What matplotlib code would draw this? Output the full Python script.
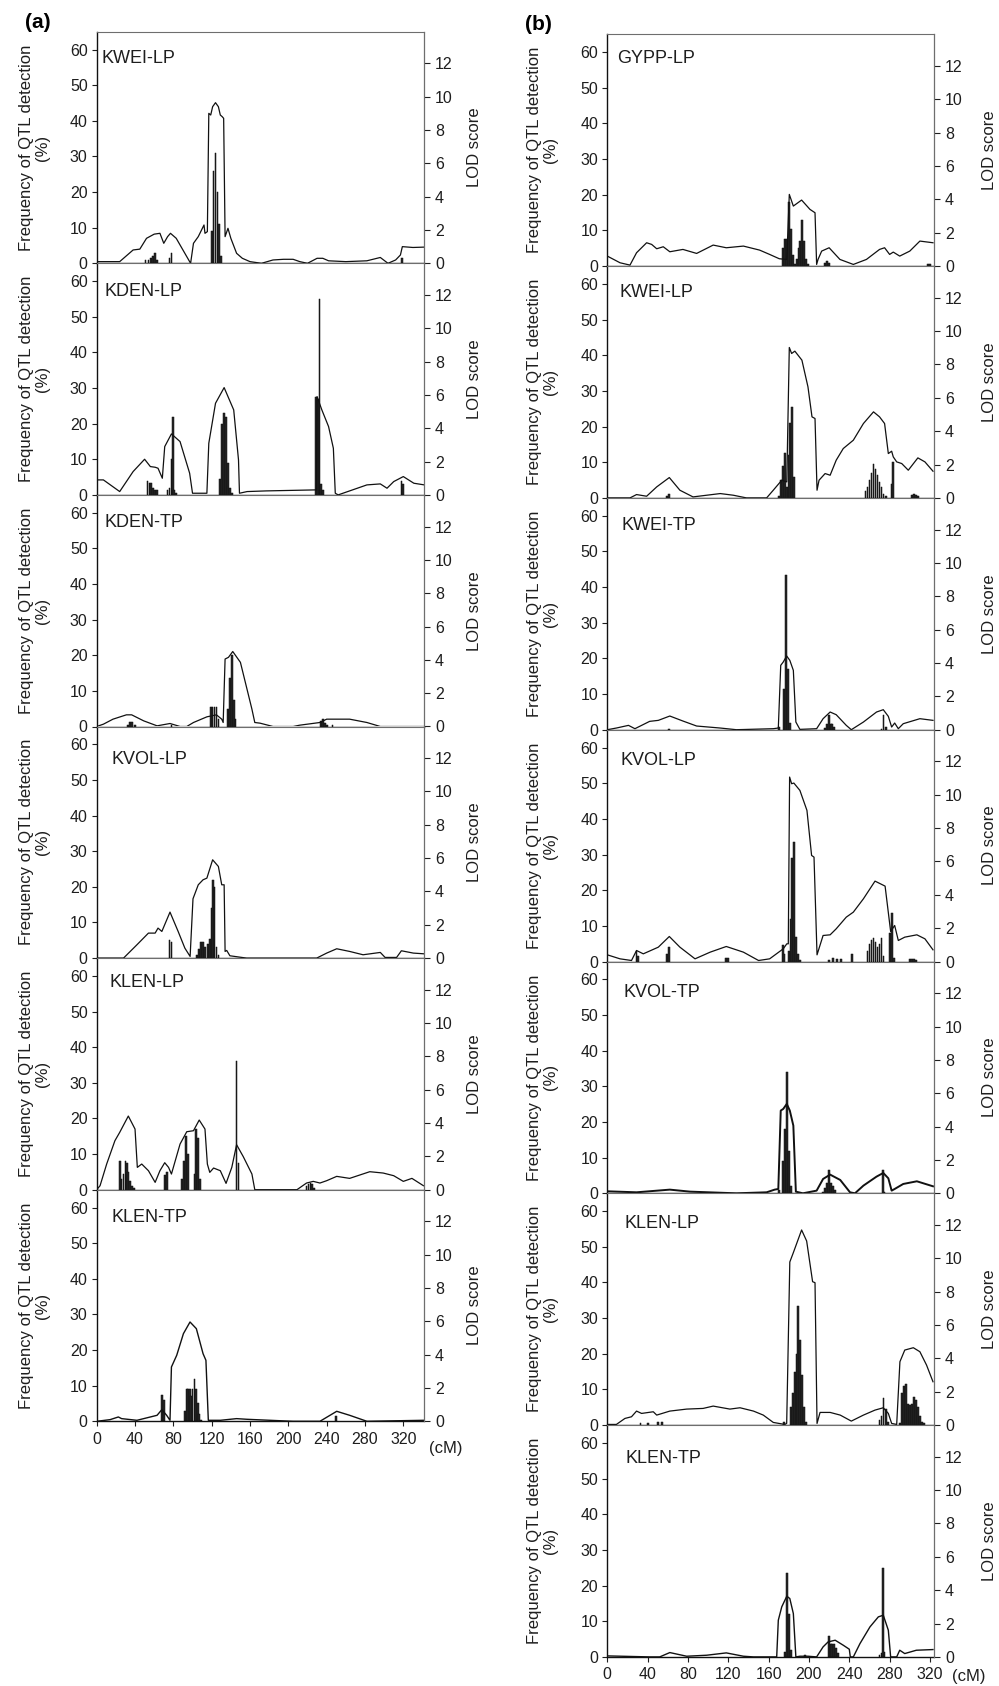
import matplotlib
matplotlib.use("Agg")
import matplotlib.pyplot as plt

plt.rcParams['font.family'] = ['Liberation Sans', 'DejaVu Sans']

# ---------------- DATA ----------------
# Column (a)
a1_name = "KWEI-LP"
a1_lod_x = [0, 24, 32, 38, 45, 52, 60, 66, 70, 74, 77, 83, 90, 98, 101, 106, 112, 113, 115.5, 117, 119, 121, 124, 127, 129, 131, 132.5, 134, 137, 140, 146, 152, 160, 172, 184, 195, 205, 212, 220, 230, 236, 242, 260, 282, 296, 304, 312, 317, 319, 330, 341]
a1_lod_y = [0.1, 0.1, 0.5, 0.8, 0.85, 1.5, 1.75, 1.8, 1.2, 1.6, 1.8, 1.5, 0.8, 0.0, 1.2, 1.6, 2.3, 1.8, 1.9, 9.0, 8.9, 9.4, 9.64, 9.4, 8.9, 8.8, 8.7, 1.6, 2.1, 1.5, 0.6, 0.3, 0.1, 0.0, 0.2, 0.24, 0.24, 0.1, 0.0, 0.3, 0.3, 0.15, 0.1, 0.15, 0.35, 0.0, 0.2, 0.5, 1.0, 0.95, 0.97]
a1_bar_x = [51, 54, 57, 59, 61, 63, 76, 78, 120, 122, 124, 126, 128, 130, 319]
a1_bar_h = [1, 1, 1.5, 2, 2.8, 1, 1.5, 3, 9, 26, 31, 20, 11, 2, 1.5]

a2_name = "KDEN-LP"
a2_lod_x = [0, 7, 24, 38, 50, 56, 61, 64, 68.5, 71, 78, 87, 97, 100, 115, 117, 124, 133, 143, 148, 149, 157, 177, 228, 229.5, 230, 235, 242, 247, 249, 252, 282, 296, 303, 310, 320, 331, 342]
a2_lod_y = [0.9, 0.9, 0.2, 1.4, 2.14, 1.7, 1.66, 1.6, 1.0, 2.9, 3.66, 3.2, 1.3, 0.1, 0.1, 3.1, 5.5, 6.44, 5.1, 2.1, 0.1, 0.2, 0.24, 0.3, 0.3, 5.9, 5.1, 4.1, 2.8, 0.1, 0.0, 0.6, 0.66, 0.4, 0.8, 1.1, 0.7, 0.6]
a2_bar_x = [53, 55, 57, 59, 61, 63, 74, 76, 78, 79.5, 81, 83, 129, 131, 133, 135, 137, 139, 141, 229, 231, 232.5, 234, 236, 318, 320]
a2_bar_h = [4, 3.3, 3.3, 2, 1.5, 1.3, 1.5, 2, 10, 22, 1.5, 0.5, 4.5, 20, 23, 22, 9, 2, 0.5, 27.5, 27, 55, 3, 1.5, 4, 3]

a3_name = "KDEN-TP"
a3_lod_x = [0, 7, 17, 31, 36.5, 49, 63, 76.5, 87, 94, 101, 115, 125, 130.5, 132, 134, 137.5, 142, 150, 162, 165, 170.5, 184, 205, 212, 233, 240, 264, 282, 296, 341]
a3_lod_y = [0, 0.14, 0.44, 0.7, 0.7, 0.34, 0.04, 0.18, 0, 0, 0.24, 0.58, 0.7, 0.44, 0.24, 4.05, 4.15, 4.5, 3.85, 1.04, 0.24, 0.2, 0, 0, 0.08, 0.24, 0.44, 0.44, 0.24, 0, 0]
a3_bar_x = [33, 35, 37, 40, 78, 119, 121, 123, 125, 127, 137, 139, 141, 143, 145, 234, 236, 238, 240, 246]
a3_bar_h = [0.5, 1.3, 1.3, 0.5, 0.5, 5.5, 5.5, 5.5, 5.5, 2, 5, 13.5, 20, 7.5, 2, 1.5, 2, 1, 0.5, 0.3]

a4_name = "KVOL-LP"
a4_lod_x = [0, 28, 42, 54, 61, 64, 68, 76.5, 85, 92, 97.5, 100.5, 106, 111, 115, 121, 127, 130.5, 133, 134, 135.7, 139, 156.5, 229.6, 240, 250.5, 264, 278, 296, 301, 313, 318, 330.5, 341]
a4_lod_y = [0, 0, 0.8, 1.5, 1.5, 1.8, 1.6, 2.76, 1.6, 0.6, 0.1, 3.56, 4.4, 4.7, 4.8, 5.9, 5.5, 4.4, 4.4, 0.4, 0.46, 0.14, 0, 0, 0.3, 0.56, 0.4, 0.2, 0.34, 0.04, 0.04, 0.44, 0.3, 0.26]
a4_bar_x = [76, 78, 105, 107, 109, 111, 113, 116.5, 118, 120, 121.5, 123, 125, 127]
a4_bar_h = [5, 4.5, 1, 2.5, 4.5, 4.5, 3, 4, 5.5, 14, 22, 20, 3, 1]

a5_name = "KLEN-LP"
a5_lod_x = [0, 3.5, 10.4, 19, 24, 33, 40, 42.4, 47, 54, 61, 66, 71, 75, 78, 87, 94, 101, 107, 113, 115.5, 118, 122, 129, 135, 141, 146, 153, 162, 165, 177, 209, 219, 226, 233, 240, 250.5, 264, 285, 299, 310, 320, 329, 341]
a5_lod_y = [0, 0.24, 1.54, 2.94, 3.44, 4.42, 3.64, 1.34, 1.54, 1.14, 0.44, 1.14, 1.62, 1.34, 0.94, 2.74, 3.48, 3.54, 4.18, 3.64, 1.54, 1.04, 1.3, 1.14, 0.38, 1.34, 2.7, 1.98, 0.94, 0, 0, 0, 0.4, 0.5, 0.4, 0.54, 0.8, 0.68, 1.08, 1.0, 0.84, 0.5, 0.68, 0.24]
a5_bar_x = [24, 26, 28, 30, 31.5, 33, 35, 37, 39, 71, 73, 89, 91, 93, 95, 102.5, 104, 106, 108, 146, 148, 219, 221, 223, 225, 227]
a5_bar_h = [8, 3, 4.5, 8, 7.5, 5, 2.5, 1, 0.5, 4, 5, 3, 8, 15, 10, 4.5, 17, 14.5, 3, 36, 7.5, 1, 1.5, 2, 1.5, 0.5]

a6_name = "KLEN-TP"
a6_lod_x = [0, 14, 22.6, 26, 42, 56, 63, 68, 73, 76.5, 78, 83.5, 90.5, 97.4, 104, 111, 114, 116.5, 129, 146, 157, 205, 233, 250.5, 264, 282, 341]
a6_lod_y = [0, 0.1, 0.26, 0.16, 0.06, 0.26, 0.36, 0.7, 0.36, 0.06, 3.26, 3.96, 5.26, 5.96, 5.56, 4.06, 3.66, 0.06, 0.06, 0.16, 0.12, 0, 0, 0.6, 0.36, 0, 0.06]
a6_bar_x = [68, 70, 92, 94, 95.5, 97, 98.5, 100, 102, 104, 105.5, 107, 109, 250]
a6_bar_h = [7.5, 6, 3, 9, 9, 9, 7, 9, 12, 9, 5, 2, 0.5, 1.5]

# Column (b)
b1_name = "GYPP-LP"
b1_lod_x = [0, 12.6, 22.5, 29, 39, 44, 49, 55.5, 62, 75, 88.6, 105, 118, 135, 151, 161, 170.6, 178, 180.5, 184.5, 192.7, 201, 206, 207.6, 209, 212.6, 220, 230.7, 244, 257, 270, 275, 280, 283.6, 290, 300, 310, 323]
b1_lod_y = [0.6, 0.2, 0.06, 0.8, 1.4, 1.3, 1.04, 1.16, 0.86, 1.0, 0.76, 1.26, 1.1, 1.2, 0.96, 0.7, 0.44, 0.4, 4.3, 3.6, 3.96, 3.4, 3.2, 0.1, 0.4, 0.9, 1.1, 0.4, 0.1, 0.4, 1.0, 1.1, 0.7, 0.84, 0.6, 0.9, 1.5, 1.4]
b1_bar_x = [174, 176, 178, 180, 182, 184, 186, 188.5, 190, 191.5, 193, 195, 197, 199, 216, 218, 220, 318, 320]
b1_bar_h = [5, 7.5, 7.5, 18, 10.5, 3, 0.5, 2, 5, 7, 13, 7, 2, 0.5, 1, 1.5, 1, 0.5, 0.5]

b2_name = "KWEI-LP"
b2_lod_x = [0, 22.5, 29, 39, 49, 61.5, 72, 85, 112, 125, 138, 158, 164.6, 173, 178, 180.5, 182.8, 186, 193, 199, 203, 206, 208, 210, 216, 221, 227, 234, 244, 254, 264, 270, 275, 278.7, 282, 283.6, 287, 292, 298.5, 308, 315, 323]
b2_lod_y = [0, 0, 0.2, 0.1, 0.66, 1.22, 0.46, 0.06, 0.26, 0.16, 0, 0, 0.46, 1.06, 0.96, 9.02, 8.66, 8.8, 8.26, 6.66, 4.86, 4.76, 0.46, 1.06, 1.46, 1.36, 2.26, 2.96, 3.46, 4.46, 5.16, 4.86, 4.46, 2.66, 2.8, 2.46, 2.16, 2.06, 1.66, 2.4, 2.16, 1.6]
b2_bar_x = [59, 61, 170, 172.5, 174, 176, 178, 180, 181.5, 183.5, 185, 256, 258, 260, 262, 264, 266, 268, 270, 272, 274, 276, 282, 283.5, 302, 304, 306, 308]
b2_bar_h = [0.5, 1, 0.5, 5, 9, 12.5, 3, 12, 21, 25.5, 6, 2, 3, 5, 7, 9.5, 8, 6.5, 4.5, 3, 1, 0.5, 4, 10, 0.8, 1, 0.8, 0.6]

b3_name = "KWEI-TP"
b3_lod_x = [0, 9, 21, 27.4, 42, 50.6, 62, 75, 88.6, 112, 128, 164.6, 169.6, 172, 174.5, 177.9, 181, 184.5, 187, 191, 207.6, 214, 221, 227, 237, 242, 254, 267, 273.7, 278.7, 282, 285, 288.6, 293.5, 310, 323]
b3_lod_y = [0, 0.1, 0.26, 0.06, 0.5, 0.56, 0.82, 0.52, 0.22, 0.1, 0, 0.06, 0.1, 3.86, 4.06, 4.42, 4.16, 3.56, 0.46, 0.02, 0.06, 0.66, 1.06, 0.9, 0.26, 0, 0.46, 1.06, 1.2, 0.8, 0.16, 0.4, 0.06, 0.36, 0.66, 0.56]
b3_bar_x = [61, 170.5, 175, 177, 179, 181, 216, 218, 220, 221.5, 223, 225, 272, 274, 276]
b3_bar_h = [0.3, 0.8, 11.5, 43.5, 17, 2, 0.5, 1.5, 4, 1.5, 1.5, 0.7, 0.3, 4, 0.7]

b4_name = "KVOL-LP"
b4_lod_x = [0, 12.6, 24, 29, 35.7, 50.6, 61.5, 72, 87, 102, 118, 135, 150, 161, 174.5, 178, 179.5, 180.8, 182.8, 185, 191, 198, 202.6, 205, 208, 214, 221, 227, 237, 244, 254, 265.5, 275.5, 281, 285, 288.6, 295, 307, 315, 323]
b4_lod_y = [0.4, 0.16, 0.06, 0.66, 0.46, 0.86, 1.5, 0.86, 0.16, 0.56, 0.9, 0.56, 0.06, 0.16, 0.76, 1.06, 1.06, 11.06, 10.66, 10.7, 10.26, 9.06, 6.36, 6.26, 0.4, 1.56, 1.6, 1.96, 2.66, 2.96, 3.76, 4.82, 4.52, 1.8, 2.16, 1.26, 1.46, 1.6, 1.36, 0.7]
b4_bar_x = [29, 30.5, 59, 61, 118, 120, 174, 175.5, 180, 182, 183.5, 185.5, 187.5, 189, 191, 220, 224, 228, 232, 243, 258, 260, 262, 264, 266, 268, 270, 272, 274, 280, 282, 284, 300, 302, 304, 306]
b4_bar_h = [3, 1.5, 2, 4, 1, 1, 4.5, 2, 3, 12, 29, 33.5, 7, 2, 0.5, 0.5, 1, 0.8, 0.6, 2, 3, 5, 6, 6.5, 5.5, 4, 5, 6.5, 1.5, 8, 13.5, 1, 0.8, 0.8, 0.6, 0.5]

b5_name = "KVOL-TP"
b5_lod_x = [0, 29, 62, 82, 128, 158, 166, 169.6, 172, 174.5, 178, 181, 184.5, 187, 194, 207.6, 214, 221, 231, 240.7, 245.6, 254, 267, 273.7, 278.7, 282, 285, 293.5, 307, 323]
b5_lod_y = [0.12, 0.06, 0.22, 0.1, 0, 0.06, 0.22, 0.26, 4.96, 5.06, 5.36, 4.96, 4.06, 0.1, 0, 0.16, 0.86, 1.12, 0.8, 0.06, 0, 0.46, 1.0, 1.22, 0.9, 0.16, 0.26, 0.56, 0.72, 0.42]
b5_bar_x = [170, 174.5, 176.5, 178, 180, 182, 214, 216, 218, 220, 222, 224, 226, 273.5, 275]
b5_bar_h = [1, 9, 18, 34, 12, 2, 0.5, 1.5, 3, 6.5, 3, 2, 1, 6.5, 0.5]

b6_name = "KLEN-LP"
b6_lod_x = [0, 9, 17.5, 24, 29, 34, 45.6, 49, 62, 78.7, 95, 105, 121.6, 131.6, 145, 154.7, 164.6, 176, 177.9, 181, 184.5, 192.7, 197.7, 203.6, 206, 208, 211, 221, 231, 242, 254, 265.5, 273.7, 278.7, 282, 287, 290.2, 295, 303.5, 310, 316.6, 323]
b6_lod_y = [0.04, 0.04, 0.4, 0.5, 0.84, 0.7, 0.8, 0.6, 0.84, 0.96, 1.0, 1.14, 0.96, 1.04, 0.84, 0.6, 0.16, 0.04, 0.1, 9.78, 10.34, 11.7, 11.04, 8.6, 8.54, 0.1, 0.76, 0.76, 0.6, 0.24, 0.6, 0.9, 1.04, 0.7, 0.1, 0.04, 3.8, 4.5, 4.64, 4.4, 3.6, 2.6]
b6_bar_x = [33, 40, 50, 54, 175, 182, 184, 186, 188, 189.5, 191, 193, 195, 197, 270, 272, 274, 276, 278, 290, 292, 294, 296, 298, 300, 302, 304, 306, 308, 310, 312, 314]
b6_bar_h = [0.7, 0.5, 0.8, 1, 1, 5, 9, 15, 20, 33.5, 24, 14, 5, 1, 1.5, 2.5, 7.5, 4.5, 1, 0.5, 9, 11, 11.5, 6, 5.5, 6, 8, 7, 5, 2.5, 1, 0.5]

b7_name = "KLEN-TP"
b7_lod_x = [0, 42, 52, 62, 78.7, 98.5, 118, 135, 145, 168, 169.6, 173, 178, 181, 184.5, 187, 191, 199, 207.6, 214, 219, 226, 234, 240, 241, 244, 250.6, 260.5, 268.8, 273.7, 278.7, 281, 287, 290, 295, 306.5, 323]
b7_lod_y = [0.06, 0, 0, 0.26, 0.04, 0.1, 0.24, 0.04, 0, 0, 2.2, 3.0, 3.64, 3.5, 2.6, 0, 0.04, 0.04, 0, 0.6, 0.9, 1.0, 0.7, 0.46, 0, 0, 0.8, 1.8, 2.4, 2.5, 1.6, 0, 0, 0.4, 0.2, 0.4, 0.44]
b7_bar_x = [176.5, 178, 180, 182, 196, 220, 221.5, 223, 225, 227, 229, 270, 272, 273.5, 275]
b7_bar_h = [1.5, 23.5, 12, 2, 0.5, 6, 3.5, 3.5, 3.5, 2.5, 1, 0.5, 1, 25, 1.5]

x_ticks = [0, 40, 80, 120, 160, 200, 240, 280, 320]
freq_ticks = [0, 10, 20, 30, 40, 50, 60]
lod_ticks = [0, 2, 4, 6, 8, 10, 12]

col_a = [(a1_name, a1_lod_x, a1_lod_y, a1_bar_x, a1_bar_h),
         (a2_name, a2_lod_x, a2_lod_y, a2_bar_x, a2_bar_h),
         (a3_name, a3_lod_x, a3_lod_y, a3_bar_x, a3_bar_h),
         (a4_name, a4_lod_x, a4_lod_y, a4_bar_x, a4_bar_h),
         (a5_name, a5_lod_x, a5_lod_y, a5_bar_x, a5_bar_h),
         (a6_name, a6_lod_x, a6_lod_y, a6_bar_x, a6_bar_h)]
col_b = [(b1_name, b1_lod_x, b1_lod_y, b1_bar_x, b1_bar_h),
         (b2_name, b2_lod_x, b2_lod_y, b2_bar_x, b2_bar_h),
         (b3_name, b3_lod_x, b3_lod_y, b3_bar_x, b3_bar_h),
         (b4_name, b4_lod_x, b4_lod_y, b4_bar_x, b4_bar_h),
         (b5_name, b5_lod_x, b5_lod_y, b5_bar_x, b5_bar_h),
         (b6_name, b6_lod_x, b6_lod_y, b6_bar_x, b6_bar_h),
         (b7_name, b7_lod_x, b7_lod_y, b7_bar_x, b7_bar_h)]

# ---------------- LAYOUT ----------------
W, H = 999, 1686
fig = plt.figure(figsize=(W / 100, H / 100), dpi=100)

# label offsets (px from axes left, px from axes top)
lab_a = [(5, 27), (8, 28), (8, 28), (15, 33), (13, 24), (15, 28)]
lab_b = [(10, 24), (12, 26), (14, 28), (13, 31), (16, 31), (17, 30), (18, 33)]
lw_a = [0.9, 0.9, 0.9, 0.9, 0.9, 1.0]
lw_b = [0.9, 0.9, 0.9, 0.9, 1.4, 0.9, 1.0]

cols = [
    dict(panels=col_a, left=96.7, width=327.3, top=31.7, ph=231.6, xmax=341.6,
         ylab_x=-0.143, lod_x=1.130, labs=lab_a, lws=lw_a, cm=(446, 1448)),
    dict(panels=col_b, left=607.3, width=326.7, top=34.3, ph=231.8, xmax=324.0,
         ylab_x=-0.151, lod_x=1.146, labs=lab_b, lws=lw_b, cm=(969, 1677)),
]

TICK_FS = 11.5
LAB_FS = 12
spine_gray = '#6e6e6e'
txt = '#1e1e1e'
for col in cols:
    n = len(col['panels'])
    for i, (name, lx, ly, bx, bh) in enumerate(col['panels']):
        top = col['top'] + i * col['ph']
        bottom = top + col['ph']
        ax = fig.add_axes([col['left'] / W, 1 - bottom / H, col['width'] / W, col['ph'] / H])
        ax.bar(bx, bh, width=1.8, color='#262626', edgecolor='#0a0a0a', linewidth=0.35)
        ax.set_xlim(0, col['xmax'])
        ax.set_ylim(0, 65)
        ax.set_yticks(freq_ticks)
        ax.tick_params(axis='y', direction='out', length=3.5, width=0.8, labelsize=TICK_FS, pad=3,
                       colors=txt)
        ax.set_ylabel("Frequency of QTL detection\n(%)", fontsize=LAB_FS, color=txt,
                      linespacing=1.1)
        ax.yaxis.set_label_coords(col['ylab_x'], 0.5)
        for s in ['left', 'bottom']:
            ax.spines[s].set_color('#111111')
            ax.spines[s].set_linewidth(1.0)
        ax.spines['top'].set_color(spine_gray)
        ax.spines['top'].set_linewidth(0.8)
        ax.spines['right'].set_visible(False)
        if i == n - 1:
            ax.set_xticks(x_ticks)
            ax.tick_params(axis='x', direction='out', length=3.5, width=0.8, labelsize=TICK_FS,
                           pad=4, colors=txt)
        else:
            ax.set_xticks([])

        ax2 = ax.twinx()
        ax2.plot(lx, ly, color='#111111', linewidth=col['lws'][i])
        ax2.set_ylim(0, 13.9)
        ax2.set_xlim(0, col['xmax'])
        ax2.set_yticks(lod_ticks)
        ax2.tick_params(axis='y', direction='out', length=4, width=0.8, labelsize=TICK_FS, pad=4,
                        colors=txt)
        ax2.set_ylabel("LOD score", fontsize=LAB_FS, color=txt)
        ax2.yaxis.set_label_coords(col['lod_x'], 0.5)
        for s in ['left', 'top', 'bottom']:
            ax2.spines[s].set_visible(False)
        ax2.spines['right'].set_color(spine_gray)
        ax2.spines['right'].set_linewidth(0.9)

        dx, dy = col['labs'][i]
        ax.text(dx / col['width'], 1 - dy / col['ph'], name, transform=ax.transAxes,
                ha='left', va='center', fontsize=13, color=txt)

    fig.text(col['cm'][0] / W, 1 - col['cm'][1] / H, "(cM)", ha='center', va='center',
             fontsize=LAB_FS, color=txt)

fig.text(25 / W, 1 - 23 / H, "(a)", ha='left', va='center', fontsize=15, fontweight='bold')
fig.text(525 / W, 1 - 24 / H, "(b)", ha='left', va='center', fontsize=15, fontweight='bold')

fig.savefig("out.png", dpi=100)
